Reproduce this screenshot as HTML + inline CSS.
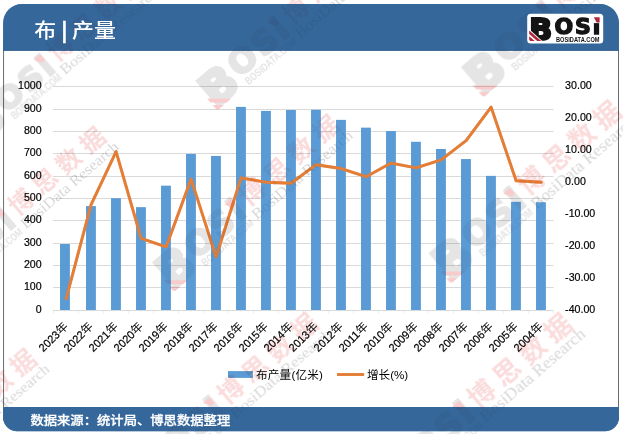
<!DOCTYPE html>
<html lang="zh-CN"><head><meta charset="utf-8"><title>布 | 产量</title>
<style>
html,body{margin:0;padding:0;background:#fff;}
body{width:623px;height:434px;overflow:hidden;}
svg{display:block;}
text{font-family:"Liberation Sans","Noto Sans CJK SC",sans-serif;}
.serif{font-family:"Liberation Serif","Noto Serif CJK SC",serif;}
.hv{font-family:"DejaVu Sans","Liberation Sans",sans-serif;font-weight:bold;}
</style></head><body>
<svg width="623" height="434" viewBox="0 0 623 434">
<defs><filter id="wb" x="0" y="0" width="623" height="434" filterUnits="userSpaceOnUse"><feGaussianBlur stdDeviation="0.6"/></filter></defs>
<rect width="623" height="434" fill="#ffffff"/>
<rect x="3.6" y="40" width="614.9" height="380" fill="#ffffff" stroke="#5a5f66" stroke-width="0.9"/>
<path d="M3.1 50.5 V23 A19 19 0 0 1 22.1 4 H600 A19 19 0 0 1 619 23 V50.5 Z" fill="#35679b"/>
<rect x="3.1" y="49.8" width="615.9" height="0.9" fill="#2a5587"/>
<path d="M3.1 407 H619 V417.3 A14 14 0 0 1 605 431.3 H17.1 A14 14 0 0 1 3.1 417.3 Z" fill="#35679b"/>
<rect x="53" y="310" width="500.5" height="1" fill="#d9d9d9"/>
<rect x="53" y="287" width="500.5" height="1" fill="#d9d9d9"/>
<rect x="53" y="265" width="500.5" height="1" fill="#d9d9d9"/>
<rect x="53" y="243" width="500.5" height="1" fill="#d9d9d9"/>
<rect x="53" y="220" width="500.5" height="1" fill="#d9d9d9"/>
<rect x="53" y="198" width="500.5" height="1" fill="#d9d9d9"/>
<rect x="53" y="176" width="500.5" height="1" fill="#d9d9d9"/>
<rect x="53" y="153" width="500.5" height="1" fill="#d9d9d9"/>
<rect x="53" y="131" width="500.5" height="1" fill="#d9d9d9"/>
<rect x="53" y="109" width="500.5" height="1" fill="#d9d9d9"/>
<rect x="53" y="86" width="500.5" height="1" fill="#d9d9d9"/>
<rect x="53" y="311" width="1" height="2.5" fill="#ececec"/>
<rect x="78" y="311" width="1" height="2.5" fill="#ececec"/>
<rect x="103" y="311" width="1" height="2.5" fill="#ececec"/>
<rect x="128" y="311" width="1" height="2.5" fill="#ececec"/>
<rect x="153" y="311" width="1" height="2.5" fill="#ececec"/>
<rect x="178" y="311" width="1" height="2.5" fill="#ececec"/>
<rect x="203" y="311" width="1" height="2.5" fill="#ececec"/>
<rect x="228" y="311" width="1" height="2.5" fill="#ececec"/>
<rect x="253" y="311" width="1" height="2.5" fill="#ececec"/>
<rect x="278" y="311" width="1" height="2.5" fill="#ececec"/>
<rect x="303" y="311" width="1" height="2.5" fill="#ececec"/>
<rect x="328" y="311" width="1" height="2.5" fill="#ececec"/>
<rect x="353" y="311" width="1" height="2.5" fill="#ececec"/>
<rect x="378" y="311" width="1" height="2.5" fill="#ececec"/>
<rect x="403" y="311" width="1" height="2.5" fill="#ececec"/>
<rect x="428" y="311" width="1" height="2.5" fill="#ececec"/>
<rect x="453" y="311" width="1" height="2.5" fill="#ececec"/>
<rect x="478" y="311" width="1" height="2.5" fill="#ececec"/>
<rect x="503" y="311" width="1" height="2.5" fill="#ececec"/>
<rect x="528" y="311" width="1" height="2.5" fill="#ececec"/>
<rect x="553" y="311" width="1" height="2.5" fill="#ececec"/>
<rect x="60.05" y="244.00" width="9.75" height="66.00" fill="#5b9bd5"/>
<rect x="86.05" y="206.14" width="9.75" height="103.86" fill="#5b9bd5"/>
<rect x="111.05" y="198.30" width="9.75" height="111.70" fill="#5b9bd5"/>
<rect x="136.05" y="207.26" width="9.75" height="102.74" fill="#5b9bd5"/>
<rect x="161.05" y="185.76" width="9.75" height="124.24" fill="#5b9bd5"/>
<rect x="186.05" y="153.95" width="9.75" height="156.05" fill="#5b9bd5"/>
<rect x="211.05" y="155.96" width="9.75" height="154.04" fill="#5b9bd5"/>
<rect x="236.05" y="106.91" width="9.75" height="203.09" fill="#5b9bd5"/>
<rect x="261.05" y="110.94" width="9.75" height="199.06" fill="#5b9bd5"/>
<rect x="286.05" y="110.04" width="9.75" height="199.96" fill="#5b9bd5"/>
<rect x="311.05" y="109.82" width="9.75" height="200.18" fill="#5b9bd5"/>
<rect x="336.05" y="119.90" width="9.75" height="190.10" fill="#5b9bd5"/>
<rect x="361.05" y="127.74" width="9.75" height="182.26" fill="#5b9bd5"/>
<rect x="386.05" y="131.10" width="9.75" height="178.90" fill="#5b9bd5"/>
<rect x="411.05" y="141.85" width="9.75" height="168.15" fill="#5b9bd5"/>
<rect x="436.05" y="149.02" width="9.75" height="160.98" fill="#5b9bd5"/>
<rect x="461.05" y="159.10" width="9.75" height="150.90" fill="#5b9bd5"/>
<rect x="486.05" y="175.90" width="9.75" height="134.10" fill="#5b9bd5"/>
<rect x="511.05" y="201.88" width="9.75" height="108.12" fill="#5b9bd5"/>
<rect x="536.05" y="202.33" width="9.75" height="107.67" fill="#5b9bd5"/>
<polyline points="66.10,298.78 91.10,204.70 116.10,151.58 141.10,238.30 166.10,246.94 191.10,179.10 216.10,256.86 241.10,177.82 266.10,182.30 291.10,183.26 316.10,164.70 341.10,168.54 366.10,176.70 391.10,163.10 416.10,167.90 441.10,159.90 466.10,140.70 491.10,107.10 516.10,180.70 541.10,182.30" fill="none" stroke="#e47e36" stroke-width="2.9" stroke-linejoin="round" stroke-linecap="round"/>
<text x="35.78" y="313.40" font-size="11.2" textLength="5.92" lengthAdjust="spacingAndGlyphs" fill="#000" stroke="#000" stroke-width="0.2">0</text>
<text x="23.95" y="290.40" font-size="11.2" textLength="17.75" lengthAdjust="spacingAndGlyphs" fill="#000" stroke="#000" stroke-width="0.2">100</text>
<text x="23.95" y="268.40" font-size="11.2" textLength="17.75" lengthAdjust="spacingAndGlyphs" fill="#000" stroke="#000" stroke-width="0.2">200</text>
<text x="23.95" y="246.40" font-size="11.2" textLength="17.75" lengthAdjust="spacingAndGlyphs" fill="#000" stroke="#000" stroke-width="0.2">300</text>
<text x="23.95" y="223.40" font-size="11.2" textLength="17.75" lengthAdjust="spacingAndGlyphs" fill="#000" stroke="#000" stroke-width="0.2">400</text>
<text x="23.95" y="201.40" font-size="11.2" textLength="17.75" lengthAdjust="spacingAndGlyphs" fill="#000" stroke="#000" stroke-width="0.2">500</text>
<text x="23.95" y="179.40" font-size="11.2" textLength="17.75" lengthAdjust="spacingAndGlyphs" fill="#000" stroke="#000" stroke-width="0.2">600</text>
<text x="23.95" y="156.40" font-size="11.2" textLength="17.75" lengthAdjust="spacingAndGlyphs" fill="#000" stroke="#000" stroke-width="0.2">700</text>
<text x="23.95" y="134.40" font-size="11.2" textLength="17.75" lengthAdjust="spacingAndGlyphs" fill="#000" stroke="#000" stroke-width="0.2">800</text>
<text x="23.95" y="112.40" font-size="11.2" textLength="17.75" lengthAdjust="spacingAndGlyphs" fill="#000" stroke="#000" stroke-width="0.2">900</text>
<text x="18.04" y="89.40" font-size="11.2" textLength="23.66" lengthAdjust="spacingAndGlyphs" fill="#000" stroke="#000" stroke-width="0.2">1000</text>
<text x="565.10" y="313.30" font-size="11.2" textLength="30.16" lengthAdjust="spacingAndGlyphs" fill="#000" stroke="#000" stroke-width="0.2">-40.00</text>
<text x="565.10" y="281.30" font-size="11.2" textLength="30.16" lengthAdjust="spacingAndGlyphs" fill="#000" stroke="#000" stroke-width="0.2">-30.00</text>
<text x="565.10" y="249.30" font-size="11.2" textLength="30.16" lengthAdjust="spacingAndGlyphs" fill="#000" stroke="#000" stroke-width="0.2">-20.00</text>
<text x="565.10" y="217.30" font-size="11.2" textLength="30.16" lengthAdjust="spacingAndGlyphs" fill="#000" stroke="#000" stroke-width="0.2">-10.00</text>
<text x="565.10" y="185.30" font-size="11.2" textLength="20.71" lengthAdjust="spacingAndGlyphs" fill="#000" stroke="#000" stroke-width="0.2">0.00</text>
<text x="565.10" y="153.30" font-size="11.2" textLength="26.62" lengthAdjust="spacingAndGlyphs" fill="#000" stroke="#000" stroke-width="0.2">10.00</text>
<text x="565.10" y="121.30" font-size="11.2" textLength="26.62" lengthAdjust="spacingAndGlyphs" fill="#000" stroke="#000" stroke-width="0.2">20.00</text>
<text x="565.10" y="89.30" font-size="11.2" textLength="26.62" lengthAdjust="spacingAndGlyphs" fill="#000" stroke="#000" stroke-width="0.2">30.00</text>
<g transform="translate(62.40,320.80) rotate(-45)"><text x="-35.97" y="9" font-size="11.2" textLength="24.37" lengthAdjust="spacingAndGlyphs" fill="#000" stroke="#000" stroke-width="0.2">2023</text><text x="-11.6" y="9" font-size="11.6" fill="#000">年</text></g>
<g transform="translate(87.40,320.80) rotate(-45)"><text x="-35.97" y="9" font-size="11.2" textLength="24.37" lengthAdjust="spacingAndGlyphs" fill="#000" stroke="#000" stroke-width="0.2">2022</text><text x="-11.6" y="9" font-size="11.6" fill="#000">年</text></g>
<g transform="translate(112.40,320.80) rotate(-45)"><text x="-35.97" y="9" font-size="11.2" textLength="24.37" lengthAdjust="spacingAndGlyphs" fill="#000" stroke="#000" stroke-width="0.2">2021</text><text x="-11.6" y="9" font-size="11.6" fill="#000">年</text></g>
<g transform="translate(137.40,320.80) rotate(-45)"><text x="-35.97" y="9" font-size="11.2" textLength="24.37" lengthAdjust="spacingAndGlyphs" fill="#000" stroke="#000" stroke-width="0.2">2020</text><text x="-11.6" y="9" font-size="11.6" fill="#000">年</text></g>
<g transform="translate(162.40,320.80) rotate(-45)"><text x="-35.97" y="9" font-size="11.2" textLength="24.37" lengthAdjust="spacingAndGlyphs" fill="#000" stroke="#000" stroke-width="0.2">2019</text><text x="-11.6" y="9" font-size="11.6" fill="#000">年</text></g>
<g transform="translate(187.40,320.80) rotate(-45)"><text x="-35.97" y="9" font-size="11.2" textLength="24.37" lengthAdjust="spacingAndGlyphs" fill="#000" stroke="#000" stroke-width="0.2">2018</text><text x="-11.6" y="9" font-size="11.6" fill="#000">年</text></g>
<g transform="translate(212.40,320.80) rotate(-45)"><text x="-35.97" y="9" font-size="11.2" textLength="24.37" lengthAdjust="spacingAndGlyphs" fill="#000" stroke="#000" stroke-width="0.2">2017</text><text x="-11.6" y="9" font-size="11.6" fill="#000">年</text></g>
<g transform="translate(237.40,320.80) rotate(-45)"><text x="-35.97" y="9" font-size="11.2" textLength="24.37" lengthAdjust="spacingAndGlyphs" fill="#000" stroke="#000" stroke-width="0.2">2016</text><text x="-11.6" y="9" font-size="11.6" fill="#000">年</text></g>
<g transform="translate(262.40,320.80) rotate(-45)"><text x="-35.97" y="9" font-size="11.2" textLength="24.37" lengthAdjust="spacingAndGlyphs" fill="#000" stroke="#000" stroke-width="0.2">2015</text><text x="-11.6" y="9" font-size="11.6" fill="#000">年</text></g>
<g transform="translate(287.40,320.80) rotate(-45)"><text x="-35.97" y="9" font-size="11.2" textLength="24.37" lengthAdjust="spacingAndGlyphs" fill="#000" stroke="#000" stroke-width="0.2">2014</text><text x="-11.6" y="9" font-size="11.6" fill="#000">年</text></g>
<g transform="translate(312.40,320.80) rotate(-45)"><text x="-35.97" y="9" font-size="11.2" textLength="24.37" lengthAdjust="spacingAndGlyphs" fill="#000" stroke="#000" stroke-width="0.2">2013</text><text x="-11.6" y="9" font-size="11.6" fill="#000">年</text></g>
<g transform="translate(337.40,320.80) rotate(-45)"><text x="-35.97" y="9" font-size="11.2" textLength="24.37" lengthAdjust="spacingAndGlyphs" fill="#000" stroke="#000" stroke-width="0.2">2012</text><text x="-11.6" y="9" font-size="11.6" fill="#000">年</text></g>
<g transform="translate(362.40,320.80) rotate(-45)"><text x="-35.97" y="9" font-size="11.2" textLength="24.37" lengthAdjust="spacingAndGlyphs" fill="#000" stroke="#000" stroke-width="0.2">2011</text><text x="-11.6" y="9" font-size="11.6" fill="#000">年</text></g>
<g transform="translate(387.40,320.80) rotate(-45)"><text x="-35.97" y="9" font-size="11.2" textLength="24.37" lengthAdjust="spacingAndGlyphs" fill="#000" stroke="#000" stroke-width="0.2">2010</text><text x="-11.6" y="9" font-size="11.6" fill="#000">年</text></g>
<g transform="translate(412.40,320.80) rotate(-45)"><text x="-35.97" y="9" font-size="11.2" textLength="24.37" lengthAdjust="spacingAndGlyphs" fill="#000" stroke="#000" stroke-width="0.2">2009</text><text x="-11.6" y="9" font-size="11.6" fill="#000">年</text></g>
<g transform="translate(437.40,320.80) rotate(-45)"><text x="-35.97" y="9" font-size="11.2" textLength="24.37" lengthAdjust="spacingAndGlyphs" fill="#000" stroke="#000" stroke-width="0.2">2008</text><text x="-11.6" y="9" font-size="11.6" fill="#000">年</text></g>
<g transform="translate(462.40,320.80) rotate(-45)"><text x="-35.97" y="9" font-size="11.2" textLength="24.37" lengthAdjust="spacingAndGlyphs" fill="#000" stroke="#000" stroke-width="0.2">2007</text><text x="-11.6" y="9" font-size="11.6" fill="#000">年</text></g>
<g transform="translate(487.40,320.80) rotate(-45)"><text x="-35.97" y="9" font-size="11.2" textLength="24.37" lengthAdjust="spacingAndGlyphs" fill="#000" stroke="#000" stroke-width="0.2">2006</text><text x="-11.6" y="9" font-size="11.6" fill="#000">年</text></g>
<g transform="translate(512.40,320.80) rotate(-45)"><text x="-35.97" y="9" font-size="11.2" textLength="24.37" lengthAdjust="spacingAndGlyphs" fill="#000" stroke="#000" stroke-width="0.2">2005</text><text x="-11.6" y="9" font-size="11.6" fill="#000">年</text></g>
<g transform="translate(537.40,320.80) rotate(-45)"><text x="-35.97" y="9" font-size="11.2" textLength="24.37" lengthAdjust="spacingAndGlyphs" fill="#000" stroke="#000" stroke-width="0.2">2004</text><text x="-11.6" y="9" font-size="11.6" fill="#000">年</text></g>
<rect x="228" y="371.1" width="24.9" height="6.8" fill="#5b9bd5"/>
<text x="256" y="378.6" font-size="11.6" letter-spacing="0.2" fill="#000">布产量(亿米)</text>
<line x1="337" y1="374.5" x2="364.1" y2="374.5" stroke="#e47e36" stroke-width="2.9"/>
<text x="367" y="378.6" font-size="11.6" fill="#000">增长(%)</text>
<g style="mix-blend-mode:multiply" filter="url(#wb)">
<g transform="translate(295.7,10.4) rotate(-40.8) scale(1)">
<g transform="translate(-127.65,-16.35) scale(1.5)">
<text class="hv" x="2.1" y="25.8" font-size="30.2" fill="#e5e5e5" stroke="#e5e5e5" stroke-width="2.2" stroke-linejoin="miter">B<tspan x="27.2" y="20.7" font-size="22" stroke-width="1.4" letter-spacing="1.9">OSi</tspan></text>
<path d="M2 16.8 L14 27.3 H10 L2 20.3 Z M2 22.4 L7.6 27.3 H3.2 L2 26.2 Z" fill="#f8cccc"/>
<path transform="translate(-1,1.7)" d="M66.6 3.4 H72.4 V8.6 H69.4 Z" fill="#f8cccc"/>
<text class="hv" x="28.8" y="28.2" font-size="7.2" fill="#e5e5e5" textLength="43.5" lengthAdjust="spacingAndGlyphs" style="font-family:'Liberation Sans',sans-serif">BOSIDATA.COM</text>
</g>
<text x="-12.7" y="9.3" font-size="25.5" font-weight="700" fill="#fbdcdc" letter-spacing="6.8">博思数据</text>
<text class="serif" x="-15" y="24.5" font-size="15.5" fill="#d8d8d8" textLength="128" lengthAdjust="spacingAndGlyphs">BosiData Research</text>
</g>
<g transform="translate(60.7,47.7) rotate(-40.8) scale(0.97)">
<g transform="translate(-127.65,-16.35) scale(1.5)">
<text class="hv" x="2.1" y="25.8" font-size="30.2" fill="#e5e5e5" stroke="#e5e5e5" stroke-width="2.2" stroke-linejoin="miter">B<tspan x="27.2" y="20.7" font-size="22" stroke-width="1.4" letter-spacing="1.9">OSi</tspan></text>
<path d="M2 16.8 L14 27.3 H10 L2 20.3 Z M2 22.4 L7.6 27.3 H3.2 L2 26.2 Z" fill="#f8cccc"/>
<path transform="translate(-1,1.7)" d="M66.6 3.4 H72.4 V8.6 H69.4 Z" fill="#f8cccc"/>
<text class="hv" x="28.8" y="28.2" font-size="7.2" fill="#e5e5e5" textLength="43.5" lengthAdjust="spacingAndGlyphs" style="font-family:'Liberation Sans',sans-serif">BOSIDATA.COM</text>
</g>
<text x="-12.7" y="9.3" font-size="25.5" font-weight="700" fill="#fbdcdc" letter-spacing="6.8">博思数据</text>
<text class="serif" x="-15" y="24.5" font-size="15.5" fill="#d8d8d8" textLength="128" lengthAdjust="spacingAndGlyphs">BosiData Research</text>
</g>
<g transform="translate(564.1,-5.5) rotate(-40.8) scale(1.03)">
<g transform="translate(-127.65,-16.35) scale(1.5)">
<text class="hv" x="2.1" y="25.8" font-size="30.2" fill="#e5e5e5" stroke="#e5e5e5" stroke-width="2.2" stroke-linejoin="miter">B<tspan x="27.2" y="20.7" font-size="22" stroke-width="1.4" letter-spacing="1.9">OSi</tspan></text>
<path d="M2 16.8 L14 27.3 H10 L2 20.3 Z M2 22.4 L7.6 27.3 H3.2 L2 26.2 Z" fill="#f8cccc"/>
<path transform="translate(-1,1.7)" d="M66.6 3.4 H72.4 V8.6 H69.4 Z" fill="#f8cccc"/>
<text class="hv" x="28.8" y="28.2" font-size="7.2" fill="#e5e5e5" textLength="43.5" lengthAdjust="spacingAndGlyphs" style="font-family:'Liberation Sans',sans-serif">BOSIDATA.COM</text>
</g>
<text x="-12.7" y="9.3" font-size="25.5" font-weight="700" fill="#fbdcdc" letter-spacing="6.8">博思数据</text>
<text class="serif" x="-15" y="24.5" font-size="15.5" fill="#d8d8d8" textLength="128" lengthAdjust="spacingAndGlyphs">BosiData Research</text>
</g>
<g transform="translate(21.2,201.8) rotate(-40.8) scale(0.97)">
<g transform="translate(-127.65,-16.35) scale(1.5)">
<text class="hv" x="2.1" y="25.8" font-size="30.2" fill="#e5e5e5" stroke="#e5e5e5" stroke-width="2.2" stroke-linejoin="miter">B<tspan x="27.2" y="20.7" font-size="22" stroke-width="1.4" letter-spacing="1.9">OSi</tspan></text>
<path d="M2 16.8 L14 27.3 H10 L2 20.3 Z M2 22.4 L7.6 27.3 H3.2 L2 26.2 Z" fill="#f8cccc"/>
<path transform="translate(-1,1.7)" d="M66.6 3.4 H72.4 V8.6 H69.4 Z" fill="#f8cccc"/>
<text class="hv" x="28.8" y="28.2" font-size="7.2" fill="#e5e5e5" textLength="43.5" lengthAdjust="spacingAndGlyphs" style="font-family:'Liberation Sans',sans-serif">BOSIDATA.COM</text>
</g>
<text x="-12.7" y="9.3" font-size="25.5" font-weight="700" fill="#fbdcdc" letter-spacing="6.8">博思数据</text>
<text class="serif" x="-15" y="24.5" font-size="15.5" fill="#d8d8d8" textLength="128" lengthAdjust="spacingAndGlyphs">BosiData Research</text>
</g>
<g transform="translate(252.3,192) rotate(-40.8) scale(1)">
<g transform="translate(-127.65,-16.35) scale(1.5)">
<text class="hv" x="2.1" y="25.8" font-size="30.2" fill="#e5e5e5" stroke="#e5e5e5" stroke-width="2.2" stroke-linejoin="miter">B<tspan x="27.2" y="20.7" font-size="22" stroke-width="1.4" letter-spacing="1.9">OSi</tspan></text>
<path d="M2 16.8 L14 27.3 H10 L2 20.3 Z M2 22.4 L7.6 27.3 H3.2 L2 26.2 Z" fill="#f8cccc"/>
<path transform="translate(-1,1.7)" d="M66.6 3.4 H72.4 V8.6 H69.4 Z" fill="#f8cccc"/>
<text class="hv" x="28.8" y="28.2" font-size="7.2" fill="#e5e5e5" textLength="43.5" lengthAdjust="spacingAndGlyphs" style="font-family:'Liberation Sans',sans-serif">BOSIDATA.COM</text>
</g>
<text x="-12.7" y="9.3" font-size="25.5" font-weight="700" fill="#fbdcdc" letter-spacing="6.8">博思数据</text>
<text class="serif" x="-15" y="24.5" font-size="15.5" fill="#d8d8d8" textLength="128" lengthAdjust="spacingAndGlyphs">BosiData Research</text>
</g>
<g transform="translate(531.8,180.6) rotate(-40.8) scale(1.03)">
<g transform="translate(-127.65,-16.35) scale(1.5)">
<text class="hv" x="2.1" y="25.8" font-size="30.2" fill="#e5e5e5" stroke="#e5e5e5" stroke-width="2.2" stroke-linejoin="miter">B<tspan x="27.2" y="20.7" font-size="22" stroke-width="1.4" letter-spacing="1.9">OSi</tspan></text>
<path d="M2 16.8 L14 27.3 H10 L2 20.3 Z M2 22.4 L7.6 27.3 H3.2 L2 26.2 Z" fill="#f8cccc"/>
<path transform="translate(-1,1.7)" d="M66.6 3.4 H72.4 V8.6 H69.4 Z" fill="#f8cccc"/>
<text class="hv" x="28.8" y="28.2" font-size="7.2" fill="#e5e5e5" textLength="43.5" lengthAdjust="spacingAndGlyphs" style="font-family:'Liberation Sans',sans-serif">BOSIDATA.COM</text>
</g>
<text x="-12.7" y="9.3" font-size="25.5" font-weight="700" fill="#fbdcdc" letter-spacing="6.8">博思数据</text>
<text class="serif" x="-15" y="24.5" font-size="15.5" fill="#d8d8d8" textLength="128" lengthAdjust="spacingAndGlyphs">BosiData Research</text>
</g>
<g transform="translate(-47.9,424.2) rotate(-40.8) scale(0.97)">
<g transform="translate(-127.65,-16.35) scale(1.5)">
<text class="hv" x="2.1" y="25.8" font-size="30.2" fill="#e5e5e5" stroke="#e5e5e5" stroke-width="2.2" stroke-linejoin="miter">B<tspan x="27.2" y="20.7" font-size="22" stroke-width="1.4" letter-spacing="1.9">OSi</tspan></text>
<path d="M2 16.8 L14 27.3 H10 L2 20.3 Z M2 22.4 L7.6 27.3 H3.2 L2 26.2 Z" fill="#f8cccc"/>
<path transform="translate(-1,1.7)" d="M66.6 3.4 H72.4 V8.6 H69.4 Z" fill="#f8cccc"/>
<text class="hv" x="28.8" y="28.2" font-size="7.2" fill="#e5e5e5" textLength="43.5" lengthAdjust="spacingAndGlyphs" style="font-family:'Liberation Sans',sans-serif">BOSIDATA.COM</text>
</g>
<text x="-12.7" y="9.3" font-size="25.5" font-weight="700" fill="#fbdcdc" letter-spacing="6.8">博思数据</text>
<text class="serif" x="-15" y="24.5" font-size="15.5" fill="#d8d8d8" textLength="128" lengthAdjust="spacingAndGlyphs">BosiData Research</text>
</g>
<g transform="translate(230.9,390.3) rotate(-40.8) scale(1)">
<g transform="translate(-127.65,-16.35) scale(1.5)">
<text class="hv" x="2.1" y="25.8" font-size="30.2" fill="#e5e5e5" stroke="#e5e5e5" stroke-width="2.2" stroke-linejoin="miter">B<tspan x="27.2" y="20.7" font-size="22" stroke-width="1.4" letter-spacing="1.9">OSi</tspan></text>
<path d="M2 16.8 L14 27.3 H10 L2 20.3 Z M2 22.4 L7.6 27.3 H3.2 L2 26.2 Z" fill="#f8cccc"/>
<path transform="translate(-1,1.7)" d="M66.6 3.4 H72.4 V8.6 H69.4 Z" fill="#f8cccc"/>
<text class="hv" x="28.8" y="28.2" font-size="7.2" fill="#e5e5e5" textLength="43.5" lengthAdjust="spacingAndGlyphs" style="font-family:'Liberation Sans',sans-serif">BOSIDATA.COM</text>
</g>
<text x="-12.7" y="9.3" font-size="25.5" font-weight="700" fill="#fbdcdc" letter-spacing="6.8">博思数据</text>
<text class="serif" x="-15" y="24.5" font-size="15.5" fill="#d8d8d8" textLength="128" lengthAdjust="spacingAndGlyphs">BosiData Research</text>
</g>
<g transform="translate(481.2,393.5) rotate(-40.8) scale(1.04)">
<g transform="translate(-127.65,-16.35) scale(1.5)">
<text class="hv" x="2.1" y="25.8" font-size="30.2" fill="#e5e5e5" stroke="#e5e5e5" stroke-width="2.2" stroke-linejoin="miter">B<tspan x="27.2" y="20.7" font-size="22" stroke-width="1.4" letter-spacing="1.9">OSi</tspan></text>
<path d="M2 16.8 L14 27.3 H10 L2 20.3 Z M2 22.4 L7.6 27.3 H3.2 L2 26.2 Z" fill="#f8cccc"/>
<path transform="translate(-1,1.7)" d="M66.6 3.4 H72.4 V8.6 H69.4 Z" fill="#f8cccc"/>
<text class="hv" x="28.8" y="28.2" font-size="7.2" fill="#e5e5e5" textLength="43.5" lengthAdjust="spacingAndGlyphs" style="font-family:'Liberation Sans',sans-serif">BOSIDATA.COM</text>
</g>
<text x="-12.7" y="9.3" font-size="25.5" font-weight="700" fill="#fbdcdc" letter-spacing="6.8">博思数据</text>
<text class="serif" x="-15" y="24.5" font-size="15.5" fill="#d8d8d8" textLength="128" lengthAdjust="spacingAndGlyphs">BosiData Research</text>
</g>
</g>
<g opacity="0.5">
<rect x="60.05" y="244.00" width="9.75" height="66.00" fill="#5b9bd5"/>
<rect x="86.05" y="206.14" width="9.75" height="103.86" fill="#5b9bd5"/>
<rect x="111.05" y="198.30" width="9.75" height="111.70" fill="#5b9bd5"/>
<rect x="136.05" y="207.26" width="9.75" height="102.74" fill="#5b9bd5"/>
<rect x="161.05" y="185.76" width="9.75" height="124.24" fill="#5b9bd5"/>
<rect x="186.05" y="153.95" width="9.75" height="156.05" fill="#5b9bd5"/>
<rect x="211.05" y="155.96" width="9.75" height="154.04" fill="#5b9bd5"/>
<rect x="236.05" y="106.91" width="9.75" height="203.09" fill="#5b9bd5"/>
<rect x="261.05" y="110.94" width="9.75" height="199.06" fill="#5b9bd5"/>
<rect x="286.05" y="110.04" width="9.75" height="199.96" fill="#5b9bd5"/>
<rect x="311.05" y="109.82" width="9.75" height="200.18" fill="#5b9bd5"/>
<rect x="336.05" y="119.90" width="9.75" height="190.10" fill="#5b9bd5"/>
<rect x="361.05" y="127.74" width="9.75" height="182.26" fill="#5b9bd5"/>
<rect x="386.05" y="131.10" width="9.75" height="178.90" fill="#5b9bd5"/>
<rect x="411.05" y="141.85" width="9.75" height="168.15" fill="#5b9bd5"/>
<rect x="436.05" y="149.02" width="9.75" height="160.98" fill="#5b9bd5"/>
<rect x="461.05" y="159.10" width="9.75" height="150.90" fill="#5b9bd5"/>
<rect x="486.05" y="175.90" width="9.75" height="134.10" fill="#5b9bd5"/>
<rect x="511.05" y="201.88" width="9.75" height="108.12" fill="#5b9bd5"/>
<rect x="536.05" y="202.33" width="9.75" height="107.67" fill="#5b9bd5"/>
<polyline points="66.10,298.78 91.10,204.70 116.10,151.58 141.10,238.30 166.10,246.94 191.10,179.10 216.10,256.86 241.10,177.82 266.10,182.30 291.10,183.26 316.10,164.70 341.10,168.54 366.10,176.70 391.10,163.10 416.10,167.90 441.10,159.90 466.10,140.70 491.10,107.10 516.10,180.70 541.10,182.30" fill="none" stroke="#e47e36" stroke-width="2.9" stroke-linejoin="round" stroke-linecap="round"/>
</g>
<path d="M3.1 50.5 V23 A19 19 0 0 1 22.1 4 H600 A19 19 0 0 1 619 23 V50.5 Z" fill="#35679b" opacity="0.5"/>
<path d="M3.1 407 H619 V417.3 A14 14 0 0 1 605 431.3 H17.1 A14 14 0 0 1 3.1 417.3 Z" fill="#35679b" opacity="0.5"/>
<text transform="translate(34.3,37.6) scale(1.03,0.95)" font-size="21.3" fill="#ffffff" font-weight="500">布<tspan x="19" dy="0.6" font-size="25" font-weight="400" stroke="#fff" stroke-width="0.5"> |</tspan><tspan x="30.7" dy="-0.6"> 产量</tspan></text>
<text transform="translate(30.4,424.6) scale(1,0.9)" font-size="13.33" font-weight="500" fill="#ffffff" stroke="#ffffff" stroke-width="0.3">数据来源：统计局、博思数据整理</text>
<g transform="translate(527.2,13.8)">
<rect x="0" y="0" width="76" height="29.6" rx="3.5" fill="#ffffff"/>
<text class="hv" x="2.1" y="25.8" font-size="30.2" fill="#141414" stroke="#141414" stroke-width="2.2" stroke-linejoin="miter">B<tspan x="27.2" y="20.7" font-size="22" stroke-width="1.4" letter-spacing="1.9">OSi</tspan></text>
<path d="M1.5 15 L16 28 H1.5 Z" fill="#ffffff"/>
<path d="M2 16.8 L14 27.3 H10 L2 20.3 Z M2 22.4 L7.6 27.3 H3.2 L2 26.2 Z" fill="#b3283a"/>
<rect x="65.6" y="2.4" width="7.6" height="6.9" fill="#ffffff"/>
<path transform="translate(0,0)" d="M66.6 3.4 H72.4 V8.6 H69.4 Z" fill="#b3283a"/>
<text class="hv" x="28.8" y="28.2" font-size="7.2" fill="#141414" textLength="43.5" lengthAdjust="spacingAndGlyphs" style="font-family:'Liberation Sans',sans-serif">BOSIDATA.COM</text>
</g>
</svg>
</body></html>
